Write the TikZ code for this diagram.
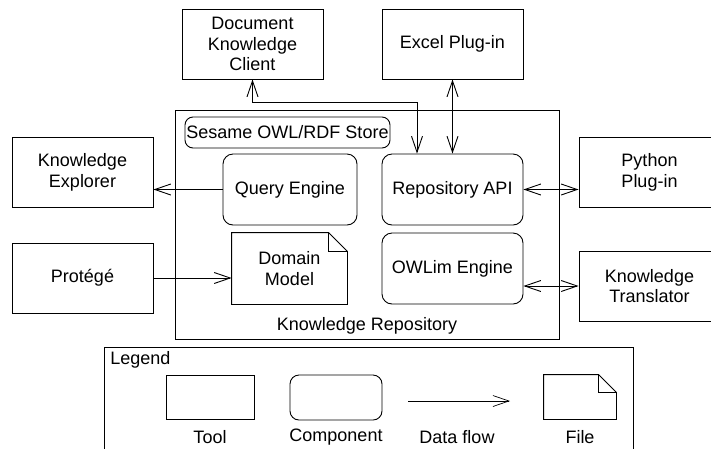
\documentclass[tikz,border=0pt]{standalone}
\usepackage{fontspec}
\setmainfont{Liberation Sans}
\usetikzlibrary{arrows.meta,calc}
\begin{document}
\begin{tikzpicture}[x=1pt,y=-1pt,
  line width=0.9pt,
  every node/.style={font=\fontsize{18}{20.5}\selectfont, inner sep=0pt, align=center},
  tool/.style={draw, rectangle, minimum width=141pt, minimum height=70pt},
  comp/.style={draw, rectangle, rounded corners=10pt, minimum width=141pt, minimum height=71pt},
  flow/.style={-{Straight Barb[length=16pt,width=11pt]}},
  bflow/.style={{Straight Barb[length=16pt,width=11pt]}-{Straight Barb[length=16pt,width=11pt]}}
]
\useasboundingbox (0,0) rectangle (711,448);
\begin{scope}
\clip (0,0) rectangle (711,448);

% top tools
\node[tool] (doc) at (252.5,44) {Document\\Knowledge\\Client};
\node[tool] (excel) at (452.5,44) {Excel Plug-in};

% left tools
\node[tool] (kexp) at (82.5,172.5) {Knowledge\\Explorer};
\node[tool] (prot) at (82.5,278) {Protégé};

% right tools (cut by the page edge)
\node[tool] (py) at (649.5,172.5) {Python\\Plug-in};
\node[tool] (tr) at (649.5,286) {Knowledge\\Translator};

% repository container
\node[draw, rectangle, minimum width=384pt, minimum height=229pt] (repo) at (367,224.5) {};
\node (repolbl) at (367,326) {Knowledge Repository};

\node[draw, rectangle, rounded corners=8pt, minimum width=205pt, minimum height=31pt] (sesame) at (287.5,132.5) {Sesame OWL/RDF Store};
\node[comp, minimum width=134pt] (query) at (290,189.5) {Query Engine};
\node[comp] (api) at (452.5,189.5) {Repository API};
\node[comp] (owl) at (452.5,268.5) {OWLim Engine};

% domain model (file)
\node[minimum width=115pt, minimum height=71pt] (dom) at (289.5,268.5) {Domain\\Model};
\draw (dom.north west) -- ($(dom.north east)+(-19,0)$) -- ($(dom.north east)+(0,19)$) -- (dom.south east) -- (dom.south west) -- cycle;
\draw ($(dom.north east)+(-19,0)$) -- ($(dom.north east)+(-19,19)$) -- ($(dom.north east)+(0,19)$);

% connectors
\coordinate (bend) at (417,102);
\draw[bflow] (doc.south) |- (bend) -- (bend |- api.north);
\draw[bflow] (excel.south) -- (excel.south |- api.north);
\draw[flow] (query.west) -- (query.west -| kexp.east);
\draw[flow] (prot.east) -- (prot.east -| dom.west);
\draw[bflow] (api.east) -- (api.east -| py.west);
\draw[bflow] (tr.west -| owl.east) -- (tr.west);

% legend
\node[draw, rectangle, minimum width=529pt, minimum height=120pt] (legend) at (368.5,407) {};
\node[anchor=west] (legendlbl) at (110,360) {Legend};
\node[draw, rectangle, minimum width=88pt, minimum height=44pt] (ltool) at (210,397) {};
\node (ltoollbl) at (210,437) {Tool};
\node[draw, rectangle, rounded corners=9pt, minimum width=92pt, minimum height=45pt] (lcomp) at (336,397.5) {};
\node (lcomplbl) at (336,437) {Component};
\coordinate (df1) at (408,401);
\coordinate (df2) at (510,401);
\draw[flow, line width=0.7pt] (df1) -- (df2);
\node (lflowlbl) at (457,437) {Data flow};
\node[minimum width=72pt, minimum height=44pt] (lfile) at (580,397) {};
\draw (lfile.north west) -- ($(lfile.north east)+(-18,0)$) -- ($(lfile.north east)+(0,18)$) -- (lfile.south east) -- (lfile.south west) -- cycle;
\draw ($(lfile.north east)+(-18,0)$) -- ($(lfile.north east)+(-18,18)$) -- ($(lfile.north east)+(0,18)$);
\node (lfilelbl) at (580,437) {File};
\end{scope}
\end{tikzpicture}
\end{document}
